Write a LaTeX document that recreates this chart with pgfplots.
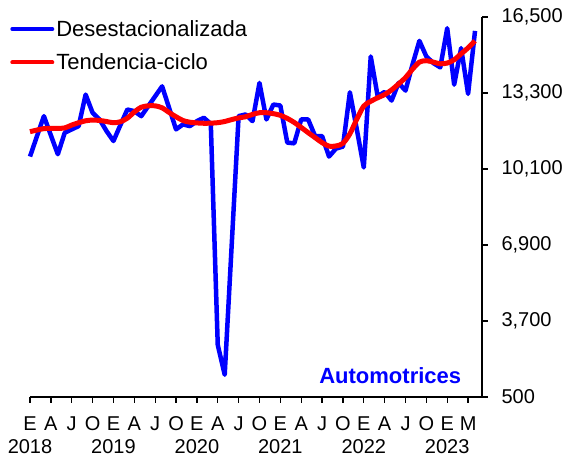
\documentclass[border=0pt]{standalone}
\usepackage{fontspec}
\setmainfont{Liberation Sans}
\usepackage{pgfplots}
\pgfplotsset{compat=1.18}
\usepackage{pgfplotstable}
\pgfplotstableread{
i d t
0 10624 11671
1 11480 11740
2 12325 11800
3 11520 11810
4 10721 11810
5 11629 11830
6 11768 11950
7 11906 12048
8 13233 12130
9 12467 12160
10 12186 12144
11 11700 12100
12 11278 12048
13 11950 12090
14 12605 12240
15 12534 12500
16 12325 12700
17 12743 12760
18 13162 12760
19 13581 12675
20 12675 12480
21 11768 12300
22 11977 12140
23 11906 12070
24 12115 12040
25 12257 12025
26 12000 12030
27 2693 12050
28 1436 12100
29 6870 12180
30 12325 12250
31 12396 12300
32 12115 12400
33 13723 12470
34 12186 12470
35 12815 12430
36 12773 12360
37 11210 12230
38 11181 12060
39 12186 11850
40 12186 11630
41 11487 11420
42 11487 11210
43 10624 11060
44 10960 11070
45 11043 11180
46 13330 11580
47 11768 12200
48 10163 12750
49 14837 12950
50 13162 13100
51 13346 13233
52 12982 13430
53 13723 13680
54 13401 13950
55 14490 14300
56 15495 14600
57 14837 14660
58 14561 14600
59 14377 14530
60 16027 14560
61 13652 14700
62 15189 14950
63 13263 15200
64 15914 15495
}\data
\begin{document}
\begin{tikzpicture}
\useasboundingbox (0,0) rectangle (568pt,457pt);
\begin{axis}[
  at={(30pt,60pt)}, anchor=south west,
  scale only axis, width=452pt, height=380pt,
  xmin=0, xmax=65, ymin=500, ymax=16500,
  axis x line*=bottom, axis y line*=right,
  axis line style={black, line width=1.3pt, -},
  tick align=outside,
  major tick length=6pt,
  every tick/.style={black, line width=1.3pt},
  scaled y ticks=false,
  xtick={0,3,...,63},
  xticklabels={{E\\2018},A,J,O,{E\\2019},A,J,O,{E\\2020},A,J,O,{E\\2021},A,J,O,{E\\2022},A,J,O,{E\\2023},M},
  xticklabel style={align=center, font=\fontsize{20}{23}\selectfont, anchor=north, inner sep=0pt, yshift=-13.5pt},
  ytick={500,3700,6900,10100,13300,16500},
  yticklabels={500,{3,700},{6,900},{10,100},{13,300},{16,500}},
  yticklabel style={font=\fontsize{20}{24}\selectfont, anchor=west, xshift=10pt},
  clip=false,
  legend style={at={(-0.044,0.997)}, anchor=north west, draw=none, fill=none,
    font=\fontsize{22}{26}\selectfont, row sep=12pt, inner sep=0pt},
  legend cell align=left,
  legend image code/.code={\draw[#1, line width=4pt, line cap=round] (0pt,0pt) -- (40pt,0pt);},
]
\addplot[blue, line width=4.5pt, line join=round] table[x=i,y=d]{\data};
\addlegendentry{Desestacionalizada}
\addplot[red, line width=5pt, line join=round, smooth] table[x=i,y=t]{\data};
\addlegendentry{Tendencia-ciclo}
\node[font=\bfseries\fontsize{22}{26}\selectfont, text=blue] at (axis description cs:0.797,0.055) {Automotrices};
\end{axis}
\end{tikzpicture}
\end{document}
